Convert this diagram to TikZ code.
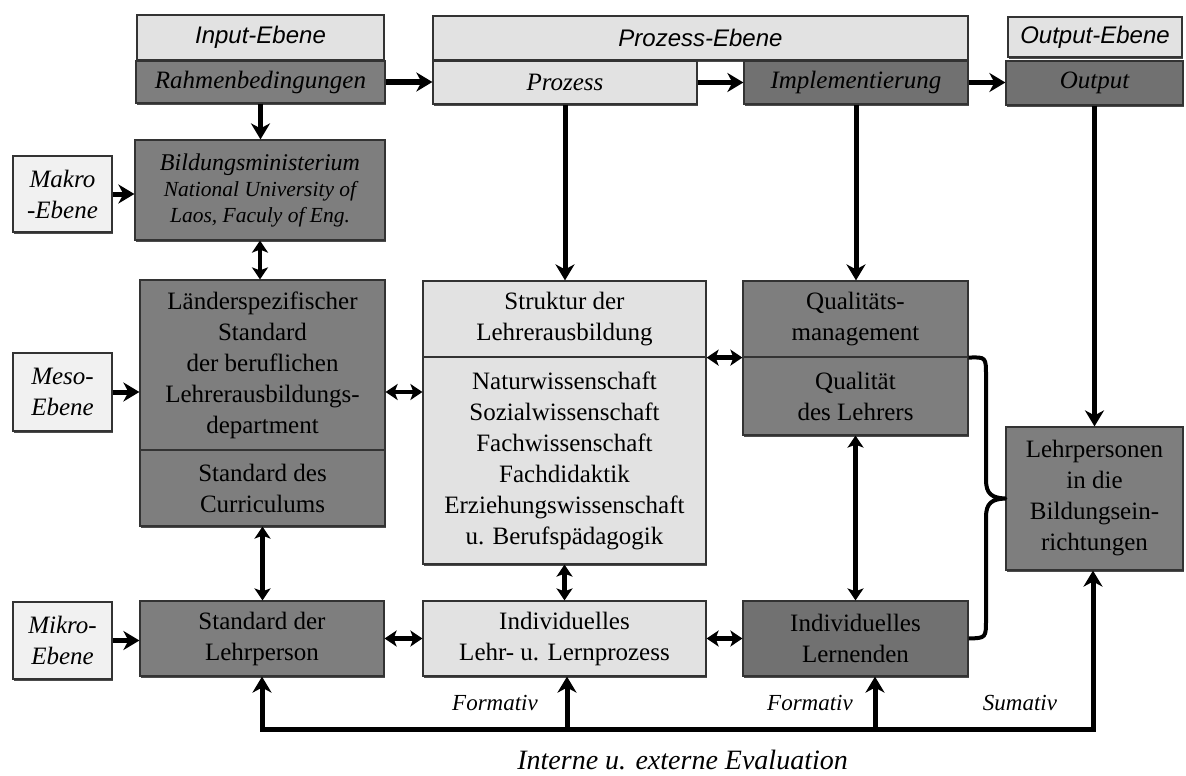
\documentclass[tikz,border=0pt]{standalone}
\usepackage{fontspec}
\setmainfont{Liberation Serif}
\newfontfamily\headfont{Liberation Sans}
\usetikzlibrary{arrows.meta,shadows}

\definecolor{boxlight}{HTML}{E2E2E2}
\definecolor{boxpale}{HTML}{F1F1F1}
\definecolor{boxdark}{HTML}{7E7E7E}
\definecolor{boxdarker}{HTML}{717171}

\tikzset{
  box/.style={draw=black!80, line width=1.2pt, inner sep=2pt, align=center,
    text=black, font=\fontsize{25}{31}\selectfont,
    drop shadow={shadow xshift=0.8pt, shadow yshift=-1.6pt, fill=black, opacity=0.7}},
  light/.style={box, fill=boxlight},
  pale/.style={box, fill=boxpale, font=\fontsize{25}{31}\selectfont\itshape},
  dark/.style={box, fill=boxdark},
  darker/.style={box, fill=boxdarker},
  head/.style={light, font=\fontsize{24}{28}\selectfont\headfont\itshape},
  conn/.style={line width=5pt, -{Stealth[length=16pt,width=19pt,inset=5pt]}},
  dconn/.style={line width=4.5pt,
    {Stealth[length=12pt,width=16pt,inset=3pt]}-{Stealth[length=12pt,width=16pt,inset=3pt]}},
  plainline/.style={line width=5pt, line cap=rect},
  bracket/.style={line width=4pt, line join=round},
  tag/.style={font=\fontsize{23}{27}\selectfont\itshape, inner sep=0pt},
}

\begin{document}
\begin{tikzpicture}[x=1pt,y=-1pt]
\useasboundingbox (0,0) rectangle (1186,776);

% header row
\node[head, minimum width=247pt, minimum height=45pt] (inH) at (260.5,37.5) {Input-Ebene};
\node[head, minimum width=535pt, minimum height=44pt] (prozH) at (700.5,38) {Prozess-Ebene};
\node[head, minimum width=174pt, minimum height=40pt] (outH) at (1095,37) {Output-Ebene};

\node[dark, minimum width=249pt, minimum height=42pt, font=\fontsize{25}{31}\selectfont\itshape] (rahmen) at (260.5,82) {Rahmenbedingungen};
\node[light, minimum width=264pt, minimum height=43pt, font=\fontsize{25}{31}\selectfont\itshape] (prozess) at (565,82.5) {Prozess};
\node[darker, minimum width=224pt, minimum height=43pt, font=\fontsize{25}{31}\selectfont\itshape] (impl) at (856,82.5) {Implementierung};
\node[darker, minimum width=177pt, minimum height=44pt, font=\fontsize{25}{31}\selectfont\itshape] (output) at (1094.5,83) {Output};

% level labels
\node[pale, minimum width=99pt, minimum height=76pt] (makro) at (62.5,194) {Makro\\-Ebene};
\node[pale, minimum width=99pt, minimum height=78pt] (meso) at (62.5,392) {Meso-\\Ebene};
\node[pale, minimum width=99pt, minimum height=77pt] (mikro) at (62.5,640.5) {Mikro-\\Ebene};

% left column
\node[dark, minimum width=250pt, minimum height=100pt, font=\fontsize{21.5}{26}\selectfont\itshape] (bildung) at (260,190)
  {{\fontsize{24}{27}\selectfont Bildungsministerium}\\National University of\\Laos, Faculy of Eng.};
\node[dark, minimum width=245pt, minimum height=170pt] (laenderA) at (262.5,365)
  {Länderspezifischer\\Standard\\der beruflichen\\Lehrerausbildungs-\\department};
\node[dark, minimum width=245pt, minimum height=76pt] (laenderB) at (262.5,488)
  {Standard des\\Curriculums};
\node[dark, minimum width=244pt, minimum height=75pt] (standard) at (262,638.5)
  {Standard der\\Lehrperson};

% middle column
\node[light, minimum width=283pt, minimum height=76pt] (strukA) at (564.5,319)
  {Struktur der\\Lehrerausbildung};
\node[light, minimum width=283pt, minimum height=207pt] (strukB) at (564.5,460.5)
  {Naturwissenschaft\\Sozialwissenschaft\\Fachwissenschaft\\Fachdidaktik\\Erziehungswissenschaft\\u. Berufspädagogik};
\node[light, minimum width=283pt, minimum height=75pt] (indLehr) at (564.5,638.5)
  {Individuelles\\Lehr- u. Lernprozess};

% right column
\node[dark, minimum width=225pt, minimum height=76pt] (qualA) at (855.5,319)
  {Qualitäts-\\management};
\node[dark, minimum width=225pt, minimum height=78pt] (qualB) at (855.5,396)
  {Qualität\\des Lehrers};
\node[darker, minimum width=225pt, minimum height=75pt] (lernenden) at (855.5,638.5)
  {Individuelles\\Lernenden};
\node[dark, minimum width=177pt, minimum height=143pt] (lehrp) at (1094.5,498.5)
  {Lehrpersonen\\in die\\Bildungsein-\\richtungen};

% process chain along the top
\draw[conn] (rahmen.east) -- (rahmen.east -| prozess.west);
\draw[conn] (prozess.east) -- (prozess.east -| impl.west);
\draw[conn] (impl.east) -- (impl.east -| output.west);
\draw[conn] (rahmen.south) -- (rahmen.south |- bildung.north);
\draw[conn] (prozess.south) -- (prozess.south |- strukA.north);
\draw[conn] (impl.south) -- (impl.south |- qualA.north);
\draw[conn] (output.south) -- (output.south |- lehrp.north);

% level inputs
\draw[conn] (makro.east) -- (makro.east -| bildung.west);
\draw[conn] (meso.east) -- (meso.east -| laenderA.west);
\draw[conn] (mikro.east) -- (mikro.east -| standard.west);

% mutual links
\draw[dconn] (bildung.south) -- (bildung.south |- laenderA.north);
\draw[dconn] (laenderB.south) -- (laenderB.south |- standard.north);
\draw[dconn] (strukB.south) -- (strukB.south |- indLehr.north);
\draw[dconn] (qualB.south) -- (qualB.south |- lernenden.north);
\draw[dconn] (laenderA.east |- meso.east) -- (strukB.west |- meso.east);
\draw[dconn] (strukA.south east) -- (qualA.south west);
\draw[dconn] (standard.east) -- (indLehr.west);
\draw[dconn] (indLehr.east) -- (lernenden.west);

% brace gathering teacher quality and learners
\draw[bracket] (qualA.south east)
  .. controls (986,357) .. (986,376) -- (986,480)
  .. controls (986,494) and (992,498) .. (lehrp.west)
  .. controls (992,499) and (986,503) .. (986,517) -- (986,619)
  .. controls (986,638) .. (lernenden.east);

% evaluation feedback line
\coordinate (evalL) at (262,729);
\coordinate (evalA) at (567,729);
\coordinate (evalB) at (875,729);
\coordinate (evalR) at (1093,729);
\draw[plainline] (evalL) -- (evalR);
\draw[conn] (evalL) -- (evalL |- standard.south);
\draw[conn] (evalA) -- (evalA |- indLehr.south);
\draw[conn] (evalB) -- (evalB |- lernenden.south);
\draw[conn] (evalR) -- (evalR |- lehrp.south);

\node[tag] (form1) at (495,703) {Formativ};
\node[tag] (form2) at (810,703) {Formativ};
\node[tag] (summ) at (1020,703) {Sumativ};
\node[tag, font=\fontsize{28}{32}\selectfont\itshape, anchor=east] (evaltext) at (848,760)
  {Interne u. externe Evaluation};
\end{tikzpicture}
\end{document}
